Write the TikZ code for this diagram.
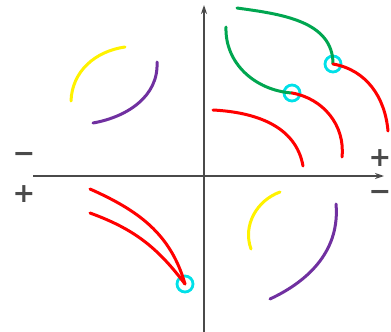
\documentclass[tikz,border=0pt]{standalone}
\usepackage{fontspec}
\newfontfamily\signfont{DejaVu Sans}
\usetikzlibrary{arrows.meta}
\definecolor{axisgray}{HTML}{4A4A4A}
\definecolor{ringcyan}{HTML}{00E0E8}
\definecolor{curvered}{HTML}{FF0000}
\definecolor{curvegreen}{HTML}{00A650}
\definecolor{curveyellow}{HTML}{FFF200}
\definecolor{curvepurple}{HTML}{7030A0}

\begin{document}
\begin{tikzpicture}[x=1pt,y=-1pt,
  axis/.style={draw=axisgray, line width=1.4pt, -{Stealth[length=9pt,width=6pt]}},
  curve/.style={line width=3pt, line cap=round},
  ring/.style={circle, draw=ringcyan, line width=2.8pt, minimum size=16pt, inner sep=0pt},
  sign/.style={text=axisgray, font=\signfont\bfseries\fontsize{27}{27}\selectfont, inner sep=0pt}
]
\useasboundingbox (0,0) rectangle (391,332);

% axes
\coordinate (xl) at (33,176);
\coordinate (xr) at (384,176);
\coordinate (yb) at (204,332);
\coordinate (yt) at (204,5);
\draw[axis] (xl) -- (xr);
\draw[axis] (yb) -- (yt);

\node[sign] (lminus) at (24,157) {−};
\node[sign] (lplus)  at (24,194) {+};
\node[sign] (rplus)  at (380,158) {+};
\node[sign] (rminus) at (380,195) {−};

% rings
\node[ring] (ringa) at (292,93) {};
\node[ring] (ringb) at (333,64) {};
\node[ring] (ringc) at (185,284) {};

% first quadrant
\coordinate (ga) at (237,8);
\coordinate (gb) at (226,27);
\coordinate (ra) at (342,157);
\coordinate (rb) at (388,131);
\coordinate (rc1) at (213,110);
\coordinate (rc2) at (303,166);
\draw[curve, curvegreen] (ga) to[out=-8, in=90] (ringb.center);
\draw[curve, curvegreen] (gb) to[out=-92, in=176] (ringa.center);
\draw[curve, curvered] (ringa.center) to[out=-10, in=84] (ra);
\draw[curve, curvered] (ringb.center) to[out=-10, in=95] (rb);
\draw[curve, curvered] (rc1) to[out=-3, in=100] (rc2);

% second quadrant
\coordinate (ya1) at (125,47);
\coordinate (ya2) at (71,101);
\coordinate (pa1) at (157,62);
\coordinate (pa2) at (93,123);
\draw[curve, curveyellow] (ya1) to[out=188, in=88] (ya2);
\draw[curve, curvepurple] (pa1) to[out=-87, in=10] (pa2);

% third quadrant
\coordinate (rd) at (90,189);
\coordinate (re) at (90,213);
\draw[curve, curvered] (rd) to[out=-24, in=106] (ringc.center);
\draw[curve, curvered] (re) to[out=-20, in=127] (ringc.center);

% fourth quadrant
\coordinate (yb1) at (280,192);
\coordinate (yb2) at (251,249);
\coordinate (pb1) at (336,204);
\coordinate (pb2) at (270,299);
\draw[curve, curveyellow] (yb1) to[out=200, in=110] (yb2);
\draw[curve, curvepurple] (pb1) to[out=-85, in=25] (pb2);
\end{tikzpicture}
\end{document}
